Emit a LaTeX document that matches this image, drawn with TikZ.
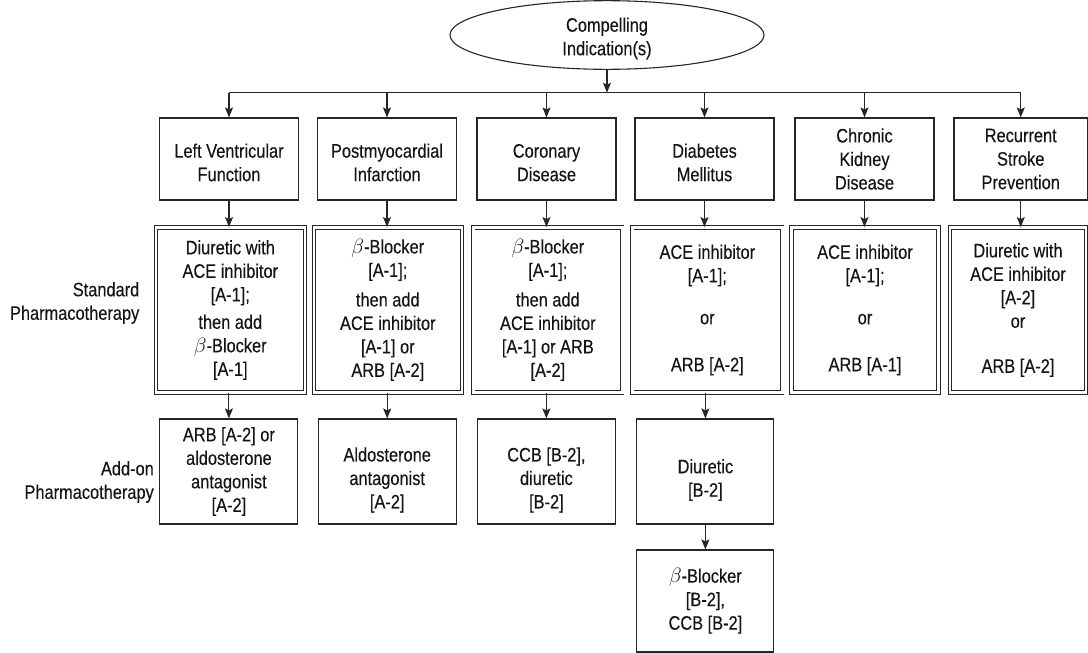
\documentclass[tikz,border=0pt]{standalone}
\usepackage{fontspec}
\setmainfont{Liberation Sans}[FakeStretch=0.84,FakeBold=0.25]
\usetikzlibrary{shapes.geometric,arrows.meta}

\definecolor{ink}{HTML}{141414}
\definecolor{rule}{HTML}{262626}

% pushes the text block of a node down by (h - cap height)/2
\newcommand{\padtop}[1]{\rule{0pt}{#1}}

\begin{document}
\begin{tikzpicture}[x=1pt,y=-1pt,
  every node/.style={font=\fontsize{19.5}{23.5}\selectfont, text=ink, inner sep=0pt, align=center},
  topbox/.style={draw=rule, line width=1.1pt, minimum width=139pt, minimum height=82pt},
  stdbox/.style={draw=rule, line width=0.9pt, double=white, double distance=2.4pt,
                 minimum width=149pt, minimum height=165pt},
  addbox/.style={draw=rule, line width=1.1pt, minimum width=138pt, minimum height=105pt},
  rowlabel/.style={align=right, anchor=east},
  link/.style={draw=rule, line width=1.1pt},
  arr/.style={link, -{Stealth[length=10pt,width=8pt,inset=2pt]}}
]
\useasboundingbox (0,0) rectangle (1088,653);

% root
\node[ellipse, draw=rule, line width=1.1pt, minimum width=314pt, minimum height=64pt]
  (ci) at (607,35) {\padtop{21pt}Compelling\\Indication(s)};

% compelling indications
\node[topbox] (lvT) at (229,159)    {\padtop{21pt}Left Ventricular\\Function};
\node[topbox] (pmT) at (387,159)    {\padtop{21pt}Postmyocardial\\Infarction};
\node[topbox] (coT) at (546.5,159)  {\padtop{21pt}Coronary\\Disease};
\node[topbox] (dmT) at (704.5,159)  {\padtop{21pt}Diabetes\\Mellitus};
\node[topbox] (ckT) at (864.5,159)  {Chronic\\Kidney\\Disease};
\node[topbox, minimum width=133.5pt] (rsT) at (1020.75,159) {Recurrent\\Stroke\\Prevention};

% standard pharmacotherapy
\node[stdbox] (lvS) at (230.3,310) {Diuretic with\\ACE inhibitor\\{}[A-1];\\[4pt]then add\\\(\beta\)-Blocker\\{}[A-1]};
\node[stdbox, minimum width=148pt] (pmS) at (387.8,310) {\(\beta\)-Blocker\\{}[A-1];\\[6pt]then add\\ACE inhibitor\\{}[A-1] or\\ARB [A-2]};
\node[stdbox] (coS) at (547.85,310) {\(\beta\)-Blocker\\{}[A-1];\\[6pt]then add\\ACE inhibitor\\{}[A-1] or ARB\\{}[A-2]};
\node[stdbox, minimum width=150pt] (dmS) at (707.35,310) {ACE inhibitor\\{}[A-1];\\[18.5pt]or\\[23.5pt]ARB [A-2]};
\node[stdbox, minimum width=147pt] (ckS) at (865,310) {ACE inhibitor\\{}[A-1];\\[18.5pt]or\\[23.5pt]ARB [A-1]};
\node[stdbox, minimum width=136pt] (rsS) at (1018,310) {Diuretic with\\ACE inhibitor\\{}[A-2]\\or\\[21.5pt]ARB [A-2]};

% add-on pharmacotherapy
\node[addbox] (lvA) at (228.9,471.5) {ARB [A-2] or\\aldosterone\\antagonist\\{}[A-2]};
\node[addbox] (pmA) at (387.2,471.5) {\padtop{31pt}Aldosterone\\antagonist\\{}[A-2]};
\node[addbox] (coA) at (546.4,471.5) {\padtop{31pt}CCB [B-2],\\diuretic\\{}[B-2]};
\node[addbox, minimum width=137pt] (dmA) at (705.4,471.5) {\padtop{31pt}Diuretic\\{}[B-2]};
\node[addbox, minimum width=137pt, minimum height=102pt] (dmB) at (705.4,601) {\(\beta\)-Blocker\\{}[B-2],\\CCB [B-2]};

% row labels
\node[rowlabel] (stdL) at (139.5,303) {Standard\\Pharmacotherapy};
\node[rowlabel] (addL) at (154,482) {Add-on\\Pharmacotherapy};

% distribution bus
\coordinate (busY) at (0,92.7);
\draw[arr] (ci.south) -- (ci.south |- busY);
\draw[link] (lvT.north |- busY) -- (rsT.north |- busY);
\foreach \n in {lvT,pmT,coT,dmT,ckT,rsT}
  \draw[arr] (\n.north |- busY) -- (\n.north);

% columns
\foreach \a/\b in {lvT/lvS,pmT/pmS,coT/coS,dmT/dmS,ckT/ckS,rsT/rsS}
  \draw[arr] (\a.south) -- (\a.south |- \b.north);
\foreach \a/\b in {lvA/lvS,pmA/pmS,coA/coS,dmA/dmS}
  \draw[arr] (\a.north |- \b.south) -- (\a.north);
\draw[arr] (dmA.south) -- (dmB.north);
\end{tikzpicture}
\end{document}
